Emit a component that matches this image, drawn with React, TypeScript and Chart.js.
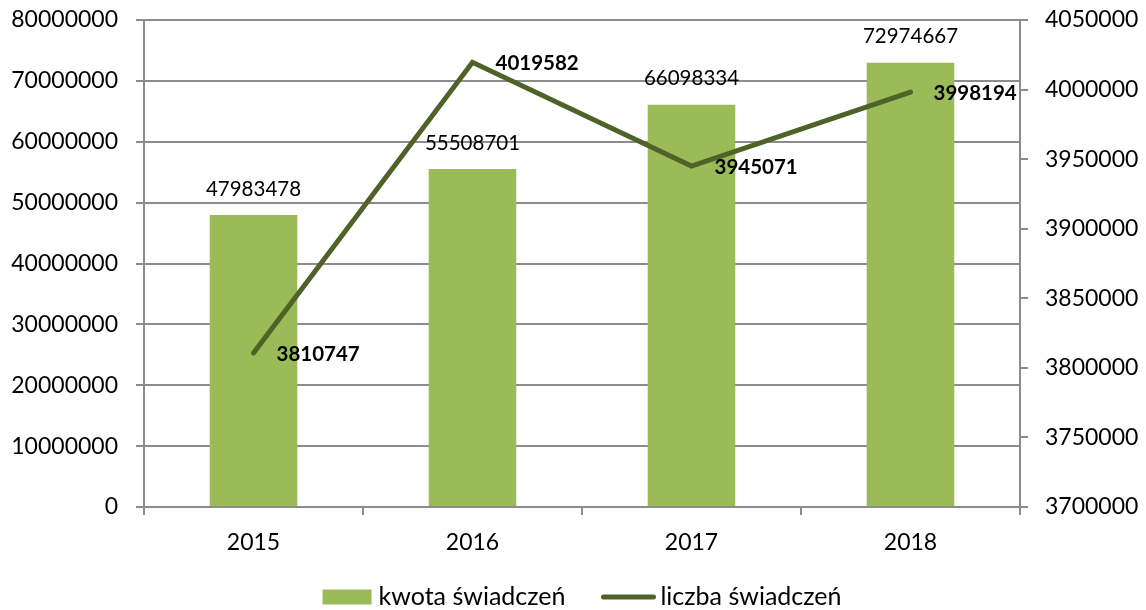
import React, { useEffect, useRef } from "react";
import { Chart, registerables } from "chart.js";

Chart.register(...registerables);

const categories = ["2015", "2016", "2017", "2018"];
const kwotaValues = [47983478, 55508701, 66098334, 72974667];
const liczbaValues = [3810747, 4019582, 3945071, 3998194];
const seriesNames = ["kwota świadczeń", "liczba świadczeń"];
const leftTicks = { min: 0, max: 80000000, step: 10000000 };
const rightTicks = { min: 3700000, max: 4050000, step: 50000 };

const BAR_COLOR = "#9BBB59";
const LINE_COLOR = "#4F6228";
const GRID_COLOR = "#8C8C8C";
const FONT = "Lato, 'Open Sans', sans-serif";

const labelPlugin = {
  id: "valueLabels",
  afterDatasetsDraw(chart: any) {
    const ctx = chart.ctx;
    ctx.save();
    ctx.fillStyle = "#000";
    ctx.textBaseline = "middle";
    const barMeta = chart.getDatasetMeta(0);
    ctx.font = `20.5px ${FONT}`;
    ctx.textAlign = "center";
    barMeta.data.forEach((el: any, i: number) => {
      ctx.fillText(String(kwotaValues[i]), el.x, el.y - 26);
    });
    const lineMeta = chart.getDatasetMeta(1);
    ctx.font = `bold 20.5px ${FONT}`;
    ctx.textAlign = "left";
    lineMeta.data.forEach((el: any, i: number) => {
      ctx.fillText(String(liczbaValues[i]), el.x + 23, el.y + 1);
    });
    ctx.restore();
  },
};

const legendPlugin = {
  id: "customLegend",
  afterDraw(chart: any) {
    const ctx = chart.ctx;
    ctx.save();
    ctx.font = `25px ${FONT}`;
    ctx.textBaseline = "middle";
    ctx.textAlign = "left";
    const w1 = ctx.measureText(seriesNames[0]).width;
    const w2 = ctx.measureText(seriesNames[1]).width;
    const boxW = 49;
    const lineW = 54;
    const gapText = 7;
    const gapItems = 36;
    const total = boxW + gapText + w1 + gapItems + lineW + 5 + w2;
    const cx = (chart.chartArea.left + chart.chartArea.right) / 2;
    let x = cx - total / 2;
    const y = 597;
    ctx.fillStyle = BAR_COLOR;
    ctx.fillRect(x, y - 7.5, boxW, 15);
    x += boxW + gapText;
    ctx.fillStyle = "#000";
    ctx.fillText(seriesNames[0], x, y);
    x += w1 + gapItems;
    ctx.strokeStyle = LINE_COLOR;
    ctx.lineWidth = 5;
    ctx.lineCap = "round";
    ctx.beginPath();
    ctx.moveTo(x + 2, y);
    ctx.lineTo(x + lineW - 2, y);
    ctx.stroke();
    x += lineW + 5;
    ctx.fillText(seriesNames[1], x, y);
    ctx.restore();
  },
};

export default function App() {
  const ref = useRef<HTMLCanvasElement>(null);
  useEffect(() => {
    document.body.style.margin = "0";
    const canvas = ref.current!;
    const chart = new Chart(canvas, {
      type: "bar",
      data: {
        labels: categories,
        datasets: [
          {
            type: "bar",
            label: seriesNames[0],
            data: kwotaValues,
            backgroundColor: BAR_COLOR,
            yAxisID: "y",
            barPercentage: 0.4,
            categoryPercentage: 1,
            order: 2,
          },
          {
            type: "line",
            label: seriesNames[1],
            data: liczbaValues,
            borderColor: LINE_COLOR,
            backgroundColor: LINE_COLOR,
            borderWidth: 5,
            pointRadius: 0,
            borderCapStyle: "round",
            borderJoinStyle: "miter",
            tension: 0,
            yAxisID: "y1",
            order: 1,
          } as any,
        ],
      },
      options: {
        responsive: false,
        animation: false,
        layout: { padding: { top: 20, left: 0, right: 0, bottom: 0 } },
        plugins: {
          legend: { display: false },
          tooltip: { enabled: false },
        },
        scales: {
          x: {
            grid: {
              display: true,
              drawOnChartArea: false,
              drawTicks: true,
              tickLength: 8,
              color: GRID_COLOR,
              lineWidth: 2,
              offset: true,
            },
            border: { color: GRID_COLOR, width: 2 },
            ticks: {
              color: "#000",
              font: { family: FONT, size: 23 },
              padding: 14,
            },
            afterFit: (s: any) => {
              s.height = 103;
            },
          },
          y: {
            position: "left",
            min: leftTicks.min,
            max: leftTicks.max,
            grid: {
              color: GRID_COLOR,
              lineWidth: 2,
              tickLength: 8,
              drawTicks: true,
            },
            border: { color: GRID_COLOR, width: 2 },
            ticks: {
              stepSize: leftTicks.step,
              color: "#000",
              font: { family: FONT, size: 23 },
              padding: 18,
              callback: (v: any) => String(v),
            },
            afterFit: (s: any) => {
              s.width = 144;
              s.paddingTop = 0;
              s.paddingBottom = 0;
            },
          },
          y1: {
            position: "right",
            min: rightTicks.min,
            max: rightTicks.max,
            grid: {
              drawOnChartArea: false,
              color: GRID_COLOR,
              lineWidth: 2,
              tickLength: 8,
              drawTicks: true,
            },
            border: { color: GRID_COLOR, width: 2 },
            ticks: {
              stepSize: rightTicks.step,
              color: "#000",
              font: { family: FONT, size: 23 },
              padding: 17,
              callback: (v: any) => String(v),
            },
            afterFit: (s: any) => {
              s.width = 126;
              s.paddingTop = 0;
              s.paddingBottom = 0;
            },
          },
        },
      },
      plugins: [labelPlugin, legendPlugin],
    });
    return () => chart.destroy();
  }, []);
  return <canvas ref={ref} width={1146} height={610} style={{ display: "block" }} />;
}
